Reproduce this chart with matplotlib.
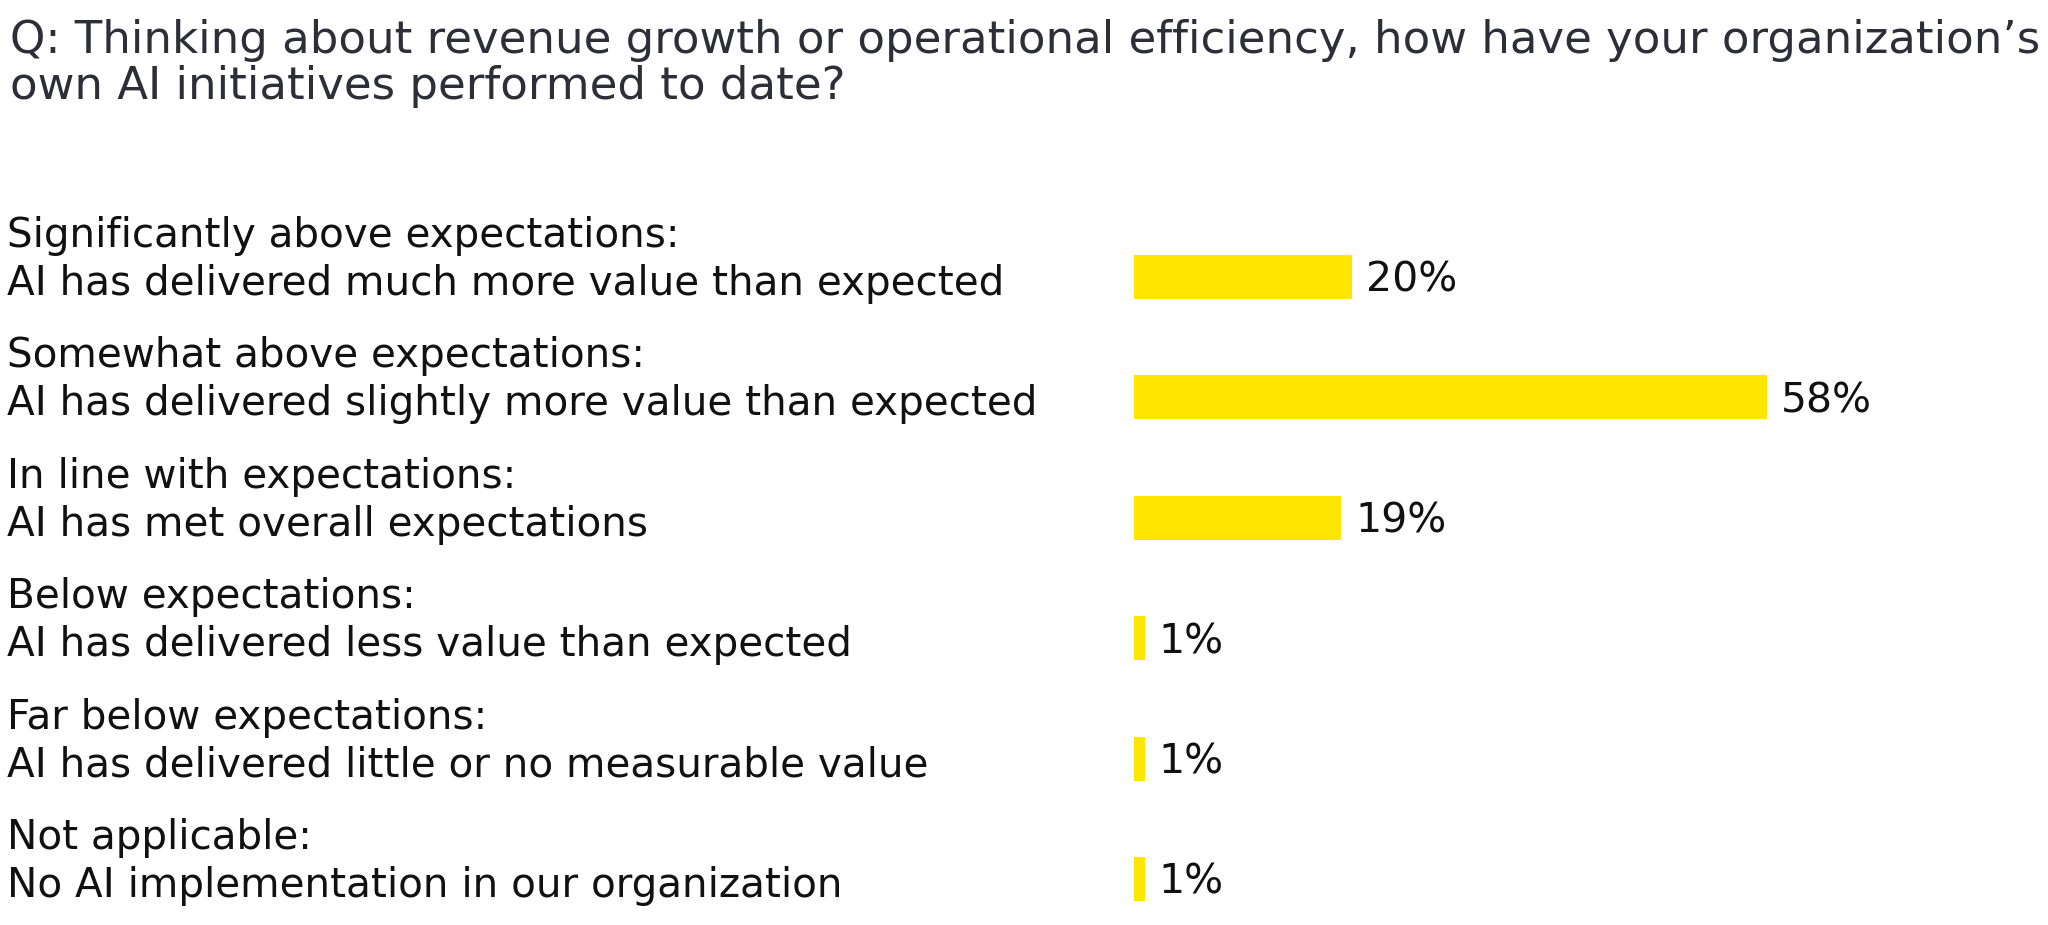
import matplotlib
matplotlib.use("Agg")
import matplotlib.pyplot as plt
from matplotlib.transforms import blended_transform_factory

title_lines = [
    "Q: Thinking about revenue growth or operational efficiency, how have your organization\u2019s",
    "own AI initiatives performed to date?",
]
categories = [
    "Significantly above expectations:",
    "Somewhat above expectations:",
    "In line with expectations:",
    "Below expectations:",
    "Far below expectations:",
    "Not applicable:",
]
descriptions = [
    "AI has delivered much more value than expected",
    "AI has delivered slightly more value than expected",
    "AI has met overall expectations",
    "AI has delivered less value than expected",
    "AI has delivered little or no measurable value",
    "No AI implementation in our organization",
]
values = [20, 58, 19, 1, 1, 1]
value_labels = ["20%", "58%", "19%", "1%", "1%", "1%"]

W, H = 2048, 925
DPI = 100
fig = plt.figure(figsize=(W / DPI, H / DPI), dpi=DPI)
fig.patch.set_facecolor("white")

YELLOW = "#FFE600"
TITLE_COLOR = "#2E2E38"
TEXT_COLOR = "#111111"
FONT = "DejaVu Sans"

# axes placement (pixels)
x0_px = 1134
px_per_pct = 10.91
xmax = 80
row0_px = 277
row_step = 120.4
ymax = (H - row0_px) / row_step
ymin = -0.5
top_px = row0_px + ymin * row_step
ax_w = xmax * px_per_pct
ax = fig.add_axes([x0_px / W, 0, ax_w / W, (H - top_px) / H])
ax.set_xlim(0, xmax)
ax.set_ylim(ymax, ymin)
ax.axis("off")

ypos = list(range(len(values)))
ax.barh(ypos, values, height=44 / row_step, color=YELLOW, left=0)

for y, v, lab in zip(ypos, values, value_labels):
    ax.text(v + 14 / px_per_pct, y + 4 / row_step, lab, va="center", ha="left",
            fontsize=29.5, color=TEXT_COLOR, family=FONT)

trans = blended_transform_factory(fig.transFigure, ax.transData)
for y, c, d in zip(ypos, categories, descriptions):
    ax.text(7 / W, y - 41 / row_step, c, transform=trans, va="center", ha="left",
            fontsize=29.2, color=TEXT_COLOR, family=FONT)
    ax.text(7 / W, y + 7 / row_step, d, transform=trans, va="center", ha="left",
            fontsize=29.2, color=TEXT_COLOR, family=FONT)

fig.text(10 / W, 1 - 40 / H, title_lines[0], va="center", ha="left",
         fontsize=32.4, color=TITLE_COLOR, family=FONT)
fig.text(10 / W, 1 - 86 / H, title_lines[1], va="center", ha="left",
         fontsize=32.4, color=TITLE_COLOR, family=FONT)

fig.savefig("out.png", dpi=DPI, facecolor="white")
